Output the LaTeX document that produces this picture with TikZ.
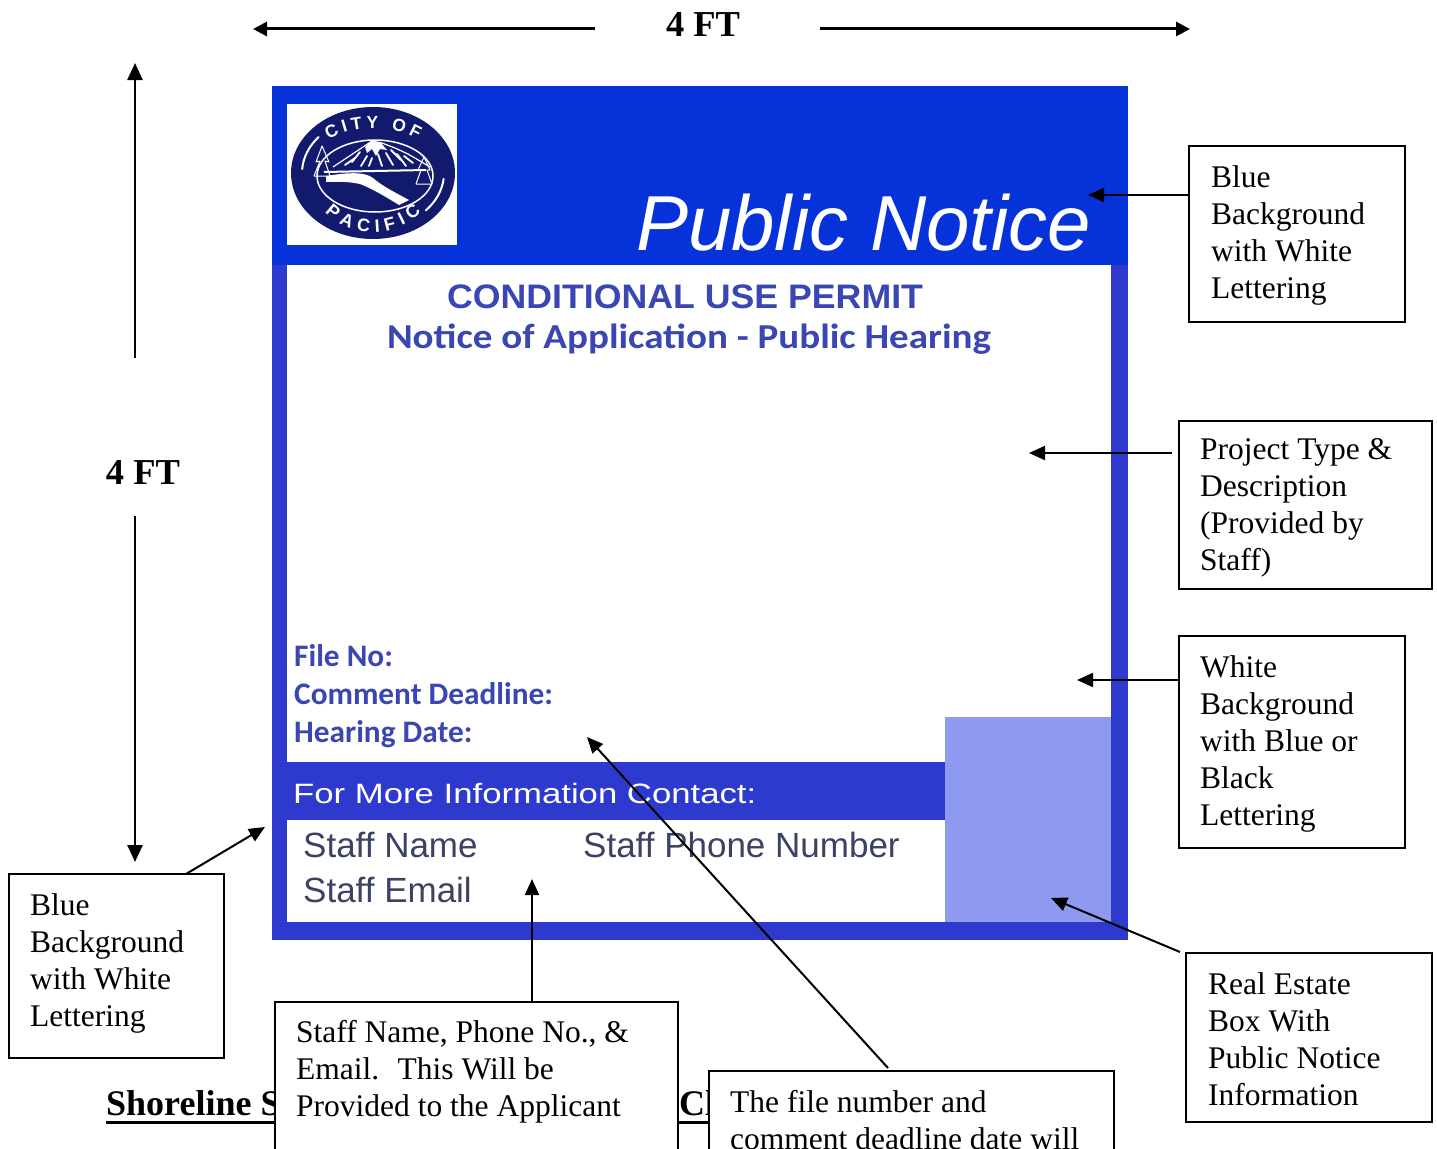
\documentclass[tikz,border=0pt]{standalone}
\usepackage{fontspec}
\setmainfont{Liberation Serif}
\newfontfamily\arialf{Liberation Sans}
\newfontfamily\arialw[FakeStretch=1.05]{Liberation Sans}
\newfontfamily\arialx[FakeStretch=1.24]{Liberation Sans}
\newfontfamily\calf{Carlito}
\newfontfamily\calw[FakeStretch=1.115]{Carlito}
\usetikzlibrary{arrows.meta,decorations.text,calc}
\definecolor{hdrblue}{RGB}{6,50,218}
\definecolor{frmblue}{RGB}{46,58,206}
\definecolor{txtblue}{RGB}{58,70,178}
\definecolor{staffgray}{RGB}{60,66,100}
\definecolor{rebox}{RGB}{142,153,240}
\definecolor{navy}{RGB}{18,26,110}
\newcommand{\lgfontA}{\arialf\bfseries\fontsize{17.5}{17.5}\selectfont}
\newcommand{\lgfontB}{\arialf\bfseries\fontsize{18}{18}\selectfont}
\begin{document}
\begin{tikzpicture}[x=1pt,y=-1pt,
  annbox/.style={draw=black, line width=1.6pt, fill=white, anchor=north west, inner sep=0pt, outer sep=0pt},
  anntxt/.style={anchor=north west, align=left, inner sep=0pt, font=\fontsize{31.5}{37}\selectfont},
  arr/.style={line width=2pt, -{Triangle[length=16pt,width=14pt]}},
  dimarr/.style={line width=3pt, -{Triangle[length=14pt,width=14pt]}},
  vdimarr/.style={line width=2.5pt, -{Triangle[length=17pt,width=15pt]}},
  ftlabel/.style={font=\bfseries\fontsize{36.5}{36.5}\selectfont, inner sep=0pt, anchor=base},
  signtxt/.style={inner sep=0pt, anchor=base west},
  snow/.style={white, line width=1.8pt, line cap=round, line join=round}]
\useasboundingbox (0,0) rectangle (1437,1148);
\fill[white] (0,0) rectangle (1437,1148);

% ---- dimensions
\node[ftlabel] (fttop) at (703,37) {4 FT};
\coordinate (tl1) at (595,29); \coordinate (tl2) at (253,29);
\coordinate (tr1) at (820,29); \coordinate (tr2) at (1190,29);
\draw[dimarr] (tl1) -- (tl2);
\draw[dimarr] (tr1) -- (tr2);
\node[ftlabel] (ftleft) at (143,484) {4 FT};
\coordinate (vu1) at (135,358); \coordinate (vu2) at (135,63);
\coordinate (vd1) at (135,516); \coordinate (vd2) at (135,862);
\draw[vdimarr] (vu1) -- (vu2);
\draw[vdimarr] (vd1) -- (vd2);

% ---- sign
\fill[frmblue] (272,86) rectangle (1128,940);
\fill[hdrblue] (272,86) rectangle (1128,265);
\fill[white] (287,265) rectangle (1111,762);
\fill[frmblue] (287,762) rectangle (945,818);
\fill[white] (287,820) rectangle (945,922);
\fill[rebox] (945,717) rectangle (1111,922);
\fill[white] (287,104) rectangle (457,245);

% ---- logo
\fill[navy] (373,173) ellipse [x radius=82, y radius=66];
\draw[white, line width=1.5pt] (375,176) ellipse [x radius=58, y radius=36];
\draw[white, line width=2pt, line cap=round] (373,173) ++(184:71 and 56) arc[start angle=184, end angle=220, x radius=71, y radius=56];
\draw[white, line width=2pt, line cap=round] (373,173) ++(6:71 and 56) arc[start angle=6, end angle=42, x radius=71, y radius=56];
% mountain snow
\fill[white] (365,147) -- (372,141) -- (381,143) -- (387,150) -- (380,149) -- (376,156) -- (372,149) -- (367,153) -- cycle;
\draw[snow] (360,152) -- (352,162) (367,156) -- (361,166) (378,154) -- (382,166)
  (386,153) -- (393,165) (391,150) -- (401,160) (397,154) -- (406,166)
  (404,156) -- (413,163) (372,158) -- (369,166) (355,158) -- (345,165);
\draw[white, line width=1.2pt, line join=round] (333,167) -- (348,157) -- (360,149) -- (372,141) -- (382,143) -- (395,148) -- (408,154) -- (420,161) -- (430,167);
% trees
\draw[white, line width=1pt, line join=round]
  (322,146) -- (316,162) -- (320,161) -- (314,176) -- (330,176) -- (325,161) -- (329,162) -- cycle
  (424,157) -- (418,170) -- (421,170) -- (416,184) -- (432,184) -- (427,170) -- (430,170) -- cycle;
% shore and river
\draw[white, line width=2pt] (324,172) -- (426,170);
\fill[white] (326,176) .. controls (350,172) and (365,172) .. (373,178)
  .. controls (382,186) and (396,193) .. (409,200) -- (399,205)
  .. controls (386,197) and (371,188) .. (360,184)
  .. controls (346,181) and (335,182) .. (326,182) -- cycle;
\path[decorate, decoration={text along path, text color=white, text={|\lgfontA|CITY OF}, text align={fit to path}}]
  (373,175) ++(229:68 and 47) arc[start angle=229, end angle=311, x radius=68, y radius=47];
\path[decorate, decoration={text along path, text color=white, text={|\lgfontB|PACIFIC}, text align={fit to path}}]
  (373,173) ++(138:65 and 59) arc[start angle=138, end angle=42, x radius=65, y radius=59];

% ---- sign texts
\node[signtxt, text=white, font=\arialf\itshape\fontsize{78}{78}\selectfont] (pubnot) at (636,250) {Public Notice};
\node[inner sep=0pt, anchor=base, text=txtblue, font=\arialw\bfseries\fontsize{34}{34}\selectfont] (cup) at (685,308) {CONDITIONAL USE PERMIT};
\node[inner sep=0pt, anchor=base, text=txtblue, font=\calw\bfseries\fontsize{35}{35}\selectfont] (noa) at (689,348) {Notice of Application - Public Hearing};
\node[signtxt, text=txtblue, font=\calf\bfseries\fontsize{31.3}{31.3}\selectfont] (fileno) at (294,666) {File No:};
\node[signtxt, text=txtblue, font=\calf\bfseries\fontsize{31.3}{31.3}\selectfont] (cdl) at (294,704) {Comment Deadline:};
\node[signtxt, text=txtblue, font=\calf\bfseries\fontsize{31.3}{31.3}\selectfont] (hdate) at (294,742) {Hearing Date:};
\node[signtxt, text=white, font=\arialx\fontsize{28}{28}\selectfont] (fmic) at (293,803) {For More Information Contact:};
\node[signtxt, text=staffgray, font=\arialf\fontsize{35}{35}\selectfont] (sname) at (303,857) {Staff Name};
\node[signtxt, text=staffgray, font=\arialf\fontsize{35}{35}\selectfont] (sphone) at (583,857) {Staff Phone Number};
\node[signtxt, text=staffgray, font=\arialf\fontsize{35}{35}\selectfont] (semail) at (303,902) {Staff Email};

% ---- heading behind boxes
\node[inner sep=0pt, anchor=base west, font=\bfseries\fontsize{36}{36}\selectfont] (shl) at (106,1115) {Shoreline S};
\draw[line width=3pt] ($(shl.base west)+(0,7)$) -- ($(shl.base east)+(15,7)$);
\node[inner sep=0pt, anchor=base west, font=\bfseries\fontsize{36}{36}\selectfont] (shc) at (679,1115) {Cl};
\draw[line width=3pt] ($(shc.base west)+(-4,7)$) -- ($(shc.base east)+(5,7)$);

% ---- annotation boxes
\node[annbox, minimum width=216pt, minimum height=176pt] (b1) at (1189,146) {};
\node[annbox, minimum width=253pt, minimum height=168pt] (b2) at (1179,421) {};
\node[annbox, minimum width=226pt, minimum height=212pt] (b3) at (1179,636) {};
\node[annbox, minimum width=246pt, minimum height=169pt] (b4) at (1186,953) {};
\node[annbox, minimum width=215pt, minimum height=184pt] (b5) at (9,874) {};
\node[annbox, minimum width=403pt, minimum height=200pt] (b6) at (275,1002) {};
\node[annbox, minimum width=405pt, minimum height=150pt] (b7) at (709,1071) {};

\node[anntxt] (b1t) at (1211,165.5) {Blue\\Background\\with White\\Lettering};
\node[anntxt] (b2t) at (1200,438.5) {Project Type \&\\Description\\(Provided by\\Staff)};
\node[anntxt] (b3t) at (1200,655.5) {White\\Background\\with Blue or\\Black\\Lettering};
\node[anntxt] (b4t) at (1208,972.5) {Real Estate\\Box With\\Public Notice\\Information};
\node[anntxt] (b5t) at (30,893.5) {Blue\\Background\\with White\\Lettering};
\node[anntxt] (b6t) at (296,1020.5) {Staff Name, Phone No., \&\\Email.~ This Will be\\Provided to the Applicant};
\node[anntxt] (b7t) at (730,1090.5) {The file number and\\comment deadline date will};

% ---- annotation arrows
\coordinate (t1) at (1088,195);
\coordinate (t2) at (1029,453);
\coordinate (t3) at (1077,680);
\coordinate (t4) at (1051,898);
\coordinate (t5) at (265,827);
\coordinate (t6) at (532,879);
\coordinate (t7) at (587,737);
\draw[arr] (b1.west |- t1) -- (t1);
\draw[arr, shorten <=7pt] (b2.west |- t2) -- (t2);
\draw[arr] (b3.west |- t3) -- (t3);
\draw[arr] ($(b4.north west)+(-6,-1)$) -- (t4);
\draw[arr] ($(b5.north west)+(177,0)$) -- (t5);
\draw[arr] (t6 |- b6.north) -- (t6);
\draw[arr] ($(b7.north west)+(179,-3)$) -- (t7);
\end{tikzpicture}
\end{document}
